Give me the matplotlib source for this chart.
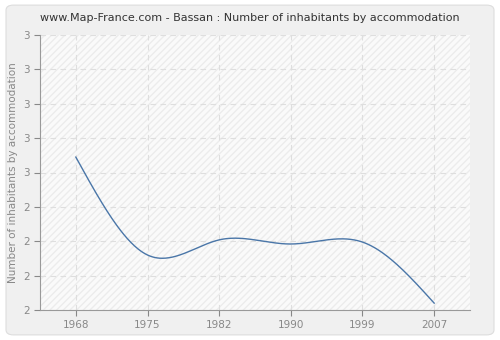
import numpy as np
import matplotlib.pyplot as plt
from matplotlib.patches import FancyBboxPatch, Rectangle

# data
years = ["1968", "1975", "1982", "1990", "1999", "2007"]
values = [2.556, 2.20, 2.255, 2.24, 2.247, 2.025]
ytick_vals = [2.0, 2.125, 2.25, 2.375, 2.5, 2.625, 2.75, 2.875, 3.0]
ytick_labels = ["2", "2", "2", "2", "3", "3", "3", "3", "3"]


def natural_spline(x, y, xs):
    # plain natural cubic spline, solved with numpy
    x = np.asarray(x, float)
    y = np.asarray(y, float)
    n = len(x)
    h = np.diff(x)
    A = np.zeros((n, n))
    b = np.zeros(n)
    A[0, 0] = 1
    A[-1, -1] = 1
    for i in range(1, n - 1):
        A[i, i - 1] = h[i - 1]
        A[i, i] = 2 * (h[i - 1] + h[i])
        A[i, i + 1] = h[i]
        b[i] = 3 * ((y[i + 1] - y[i]) / h[i] - (y[i] - y[i - 1]) / h[i - 1])
    c = np.linalg.solve(A, b)
    out = np.empty_like(xs)
    for k, t in enumerate(xs):
        i = min(np.searchsorted(x, t, side="right") - 1, n - 2)
        i = max(i, 0)
        dx = t - x[i]
        bb = (y[i + 1] - y[i]) / h[i] - h[i] * (2 * c[i] + c[i + 1]) / 3
        d = (c[i + 1] - c[i]) / (3 * h[i])
        out[k] = y[i] + bb * dx + c[i] * dx ** 2 + d * dx ** 3
    return out


fig = plt.figure(figsize=(5, 3.4), dpi=100)
fig.patch.set_facecolor("white")
bg = FancyBboxPatch((0.012, 0.015), 0.976, 0.97, boxstyle="round,pad=0,rounding_size=0.015",
                    transform=fig.transFigure, facecolor="#f0f0f0", edgecolor="#dddddd",
                    linewidth=0.8, zorder=-10)
fig.patches.append(bg)

ax = fig.add_axes([40 / 500, 30 / 340, 430 / 500, 275 / 340])
ax.set_facecolor("#fafafa")
ax.add_patch(Rectangle((0, 0), 1, 1, transform=ax.transAxes, facecolor="none",
                       edgecolor="#ececec", hatch="/////", linewidth=0, zorder=0))

xi = np.arange(len(years))
xs = np.linspace(0, len(years) - 1, 300)
ax.plot(xs, natural_spline(xi, values, xs), color="#4a76a8", linewidth=1.0, zorder=3)

ax.set_xlim(-0.5, len(years) - 0.5)
ax.set_ylim(2.0, 3.0)
ax.set_xticks(xi)
ax.set_xticklabels(years)
ax.set_yticks(ytick_vals)
ax.set_yticklabels(ytick_labels)
ax.grid(True, color="#dedede", linestyle=(0, (5, 4)), linewidth=0.8)
ax.set_axisbelow(True)
for s in ["top", "right"]:
    ax.spines[s].set_visible(False)
for s in ["left", "bottom"]:
    ax.spines[s].set_color("#999999")
ax.tick_params(colors="#888888", labelsize=7.5, length=4, width=0.8)
ax.tick_params(axis="y", pad=3)
for lab in ax.get_xticklabels() + ax.get_yticklabels():
    lab.set_color("#888888")

ax.set_ylabel("Number of inhabitants by accommodation", fontsize=7.5, color="#888888", labelpad=4)
fig.text(0.5, 0.947, "www.Map-France.com - Bassan : Number of inhabitants by accommodation",
         ha="center", va="center", fontsize=8, color="#333333")

fig.savefig("out.png", dpi=100, facecolor=fig.get_facecolor())
